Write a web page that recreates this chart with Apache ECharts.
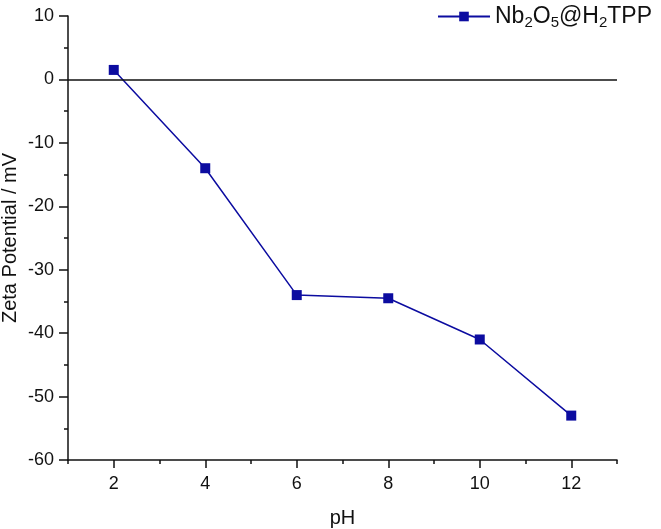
<!DOCTYPE html>
<html>
<head>
<meta charset="utf-8">
<script src="https://cdn.jsdelivr.net/npm/echarts@6/dist/echarts.min.js"></script>
<style>
    html, body { margin: 0; padding: 0; background: #fff; }
    #main { width: 661px; height: 529px; }
</style>
</head>
<body>
<div id="main"></div>
<script>
// 数据
var phValues = [2, 4, 6, 8, 10, 12];
var zetaValues = [1.5, -14, -34, -34.5, -41, -53];
var xMajorTicks = [2, 4, 6, 8, 10, 12];
var xMinorTicks = [1, 3, 5, 7, 9, 11, 13];
var seriesName = 'Nb2O5@H2TPP';

var lineColor = '#0c0ca0';
var textColor = '#111';
var fontFamily = 'Liberation Sans, Arial, sans-serif';

var points = phValues.map(function(x, i) {
    return [x, zetaValues[i]];
});

var option = {
    animation: false,
    grid: {
        left: 68,
        right: 44,
        top: 16,
        bottom: 69,
        containLabel: false,
        outerBoundsMode: 'none'
    },
    legend: {
        data: [seriesName],
        right: 4,
        top: 0,
        itemWidth: 52,
        itemHeight: 12,
        itemGap: 0,
        formatter: function() {
            return 'Nb{s|2}O{s|5}@H{s|2}TPP';
        },
        textStyle: {
            color: textColor,
            fontSize: 23,
            fontFamily: fontFamily,
            rich: {
                s: {
                    fontSize: 15,
                    verticalAlign: 'bottom',
                    padding: [12, 0, 0, 0],
                    fontFamily: fontFamily,
                    color: textColor
                }
            }
        }
    },
    xAxis: [{
        type: 'value',
        min: 1,
        max: 13,
        name: 'pH',
        nameLocation: 'middle',
        nameGap: 48,
        nameTextStyle: { color: textColor, fontSize: 20, fontFamily: fontFamily },
        axisLine: { show: true, onZero: false, lineStyle: { color: textColor, width: 1.5 } },
        axisTick: { show: true, length: 8, customValues: xMajorTicks, lineStyle: { color: textColor, width: 1.5 } },
        axisLabel: { customValues: xMajorTicks, color: textColor, fontSize: 18, fontFamily: fontFamily, margin: 15 },
        splitLine: { show: false }
    }, {
        type: 'value',
        min: 1,
        max: 13,
        position: 'bottom',
        axisLine: { show: false, onZero: false },
        axisTick: { show: true, length: 4, customValues: xMinorTicks, lineStyle: { color: textColor, width: 1.5 } },
        axisLabel: { show: false },
        splitLine: { show: false }
    }],
    yAxis: {
        type: 'value',
        min: -60,
        max: 10,
        interval: 10,
        name: 'Zeta Potential / mV',
        nameLocation: 'middle',
        nameGap: 48,
        nameMoveOverlap: false,
        nameTextStyle: { color: textColor, fontSize: 20, fontFamily: fontFamily },
        axisLine: { show: true, onZero: false, lineStyle: { color: textColor, width: 1.5 } },
        axisTick: { show: true, length: 9, lineStyle: { color: textColor, width: 1.5 } },
        minorTick: { show: true, splitNumber: 2, length: 4, lineStyle: { color: textColor, width: 1.5 } },
        axisLabel: { color: textColor, fontSize: 18, fontFamily: fontFamily, margin: 14 },
        splitLine: { show: false }
    },
    series: [{
        name: seriesName,
        type: 'line',
        data: points,
        symbol: 'rect',
        symbolSize: 10,
        lineStyle: { color: lineColor, width: 1.5 },
        itemStyle: { color: lineColor },
        markLine: {
            silent: true,
            symbol: 'none',
            label: { show: false },
            lineStyle: { color: textColor, type: 'solid', width: 1.5 },
            data: [{ yAxis: 0 }]
        }
    }]
};

var myChart = echarts.init(document.getElementById('main'));
myChart.setOption(option);
</script>
</body>
</html>
